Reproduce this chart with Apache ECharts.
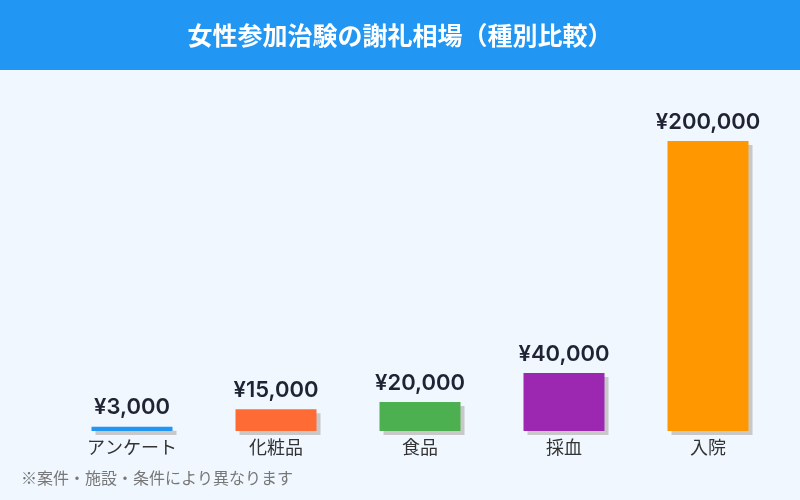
<!DOCTYPE html>
<html><head><meta charset="utf-8">
<script src="https://cdn.jsdelivr.net/npm/echarts@6/dist/echarts.min.js"></script>
<style>html,body{margin:0;padding:0;background:#F0F7FF;}#c{width:800px;height:500px;}</style>
</head><body><div id="c"></div>
<script>
const categories = ['アンケート', '化粧品', '食品', '採血', '入院'];
const values = [3000, 15000, 20000, 40000, 200000];
const palette = ['#2196F3', '#FF6B35', '#4CAF50', '#9C27B0', '#FF9800'];
const titleText = '女性参加治験の謝礼相場（種別比較）';
const noteText = '※案件・施設・条件により異なります';

const chart = echarts.init(document.getElementById('c'), null, {renderer: 'canvas'});
chart.setOption({
  backgroundColor: '#F0F7FF',
  animation: false,
  graphic: [
    {type: 'rect', left: 0, top: 0, shape: {width: 800, height: 70}, style: {fill: '#2196F3'}, z: 0},
    {type: 'text', left: 21, top: 470, style: {text: noteText, fill: '#777', font: '16px "Noto Sans CJK JP"'}}
  ],
  title: {
    text: titleText, left: 'center', top: 18,
    textStyle: {color: '#fff', fontSize: 25, fontWeight: 'bold', fontFamily: '"Noto Sans CJK JP"'}
  },
  grid: {left: 60, right: 20, top: 141, bottom: 69},
  xAxis: {
    type: 'category', data: categories,
    axisLine: {show: false}, axisTick: {show: false}, splitLine: {show: false},
    axisLabel: {color: '#333', fontSize: 18, margin: 7, fontFamily: '"Noto Sans CJK JP"'}
  },
  yAxis: {type: 'value', min: 0, max: 200000, show: false, splitLine: {show: false}},
  series: [{
    type: 'bar', barWidth: 81,
    data: values.map((v, i) => ({value: v, itemStyle: {color: palette[i]}})),
    itemStyle: {shadowColor: '#c8c8c8', shadowBlur: 0, shadowOffsetX: 4, shadowOffsetY: 4},
    label: {
      show: true, position: 'top', distance: 8,
      color: '#1f2333', fontSize: 22, fontWeight: 600, fontFamily: 'Inter, "Noto Sans CJK JP"',
      formatter: p => '¥' + p.value.toLocaleString('en-US')
    }
  }]
});
</script></body></html>
